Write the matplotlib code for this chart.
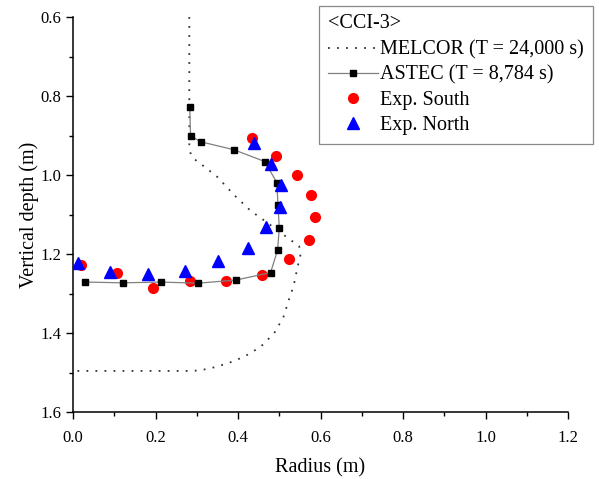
import numpy as np
import matplotlib
matplotlib.use("Agg")
import matplotlib.pyplot as plt
from matplotlib.ticker import MultipleLocator

# MELCOR ablation profile (T = 24,000 s)
melcor_r = [0.282, 0.282, 0.286, 0.300, 0.320, 0.350, 0.390, 0.430, 0.470, 0.515,
            0.548, 0.552, 0.545, 0.535, 0.522, 0.510, 0.488, 0.455, 0.415, 0.375,
            0.335, 0.305, 0.280, 0.200, 0.100, 0.0]
melcor_z = [0.60, 0.93, 0.95, 0.965, 0.98, 1.005, 1.05, 1.09, 1.12, 1.155,
            1.18, 1.20, 1.23, 1.28, 1.32, 1.36, 1.40, 1.435, 1.46, 1.477,
            1.489, 1.495, 1.496, 1.496, 1.496, 1.496]

# ASTEC ablation profile (T = 8,784 s)
astec_r = [0.283, 0.285, 0.310, 0.390, 0.465, 0.494, 0.497, 0.500, 0.496, 0.479,
           0.395, 0.302, 0.213, 0.120, 0.030]
astec_z = [0.829, 0.901, 0.916, 0.936, 0.966, 1.019, 1.076, 1.135, 1.190, 1.247,
           1.266, 1.274, 1.271, 1.273, 1.271]

# experiment, south side
south_r = [0.433, 0.491, 0.543, 0.578, 0.586, 0.571, 0.523, 0.459, 0.371, 0.284,
           0.193, 0.106, 0.019]
south_z = [0.906, 0.951, 0.999, 1.051, 1.107, 1.165, 1.213, 1.253, 1.268, 1.269,
           1.285, 1.249, 1.229]

# experiment, north side
north_r = [0.439, 0.479, 0.504, 0.501, 0.467, 0.424, 0.351, 0.271, 0.183, 0.090, 0.013]
north_z = [0.918, 0.971, 1.025, 1.082, 1.132, 1.184, 1.217, 1.242, 1.251, 1.246, 1.223]

plt.rcParams['font.family'] = ['Liberation Serif', 'DejaVu Serif']
plt.rcParams['mathtext.fontset'] = 'stix'

fig = plt.figure(figsize=(5.99, 4.79), dpi=100)
ax = fig.add_axes([73/599, 1 - 412/479, (568 - 73)/599, (412 - 17)/479])

ax.plot(melcor_r, melcor_z, linestyle=(0, (1, 4)), lw=1.3, color='#333333',
        label='MELCOR (T = 24,000 s)')
ax.plot(astec_r, astec_z, '-s', lw=0.9, color='#808080', mfc='black', mec='black',
        ms=3.8, label='ASTEC (T = 8,784 s)', zorder=3)
ax.plot(south_r, south_z, 'o', color='red', ms=7, label='Exp. South', zorder=2)
ax.plot(north_r, north_z, '^', color='blue', ms=8, label='Exp. North', zorder=4)

ax.set_xlim(0, 1.2)
ax.set_ylim(1.6, 0.6)
ax.xaxis.set_major_locator(MultipleLocator(0.2))
ax.xaxis.set_minor_locator(MultipleLocator(0.1))
ax.yaxis.set_major_locator(MultipleLocator(0.2))
ax.yaxis.set_minor_locator(MultipleLocator(0.1))
ax.xaxis.set_major_formatter(plt.FormatStrFormatter('%.1f'))
ax.yaxis.set_major_formatter(plt.FormatStrFormatter('%.1f'))
ax.tick_params(which='major', direction='out', length=5, width=1, labelsize=12)
ax.tick_params(axis='x', which='major', pad=8)
ax.tick_params(which='minor', direction='out', length=3, width=1)
ax.spines['top'].set_visible(False)
ax.spines['right'].set_visible(False)
for s in ['left', 'bottom']:
    ax.spines[s].set_linewidth(1.1)

ax.set_xlabel('Radius (m)', fontsize=14.5, labelpad=9)
ax.set_ylabel('Vertical depth (m)', fontsize=14.5, labelpad=1)

leg = ax.legend(title='<CCI-3>', loc='upper right',
                bbox_to_anchor=(592.7/599, 1 - 6/479), bbox_transform=fig.transFigure,
                fontsize=14.5, title_fontsize=14.5, alignment='left',
                frameon=True, fancybox=False, edgecolor='#888888', framealpha=1,
                borderpad=0.42, labelspacing=0.3, handlelength=2.5,
                handletextpad=0.12, borderaxespad=0)
leg.get_frame().set_linewidth(0.9)
leg._legend_box.sep = 5

fig.savefig('out.png', dpi=100)
